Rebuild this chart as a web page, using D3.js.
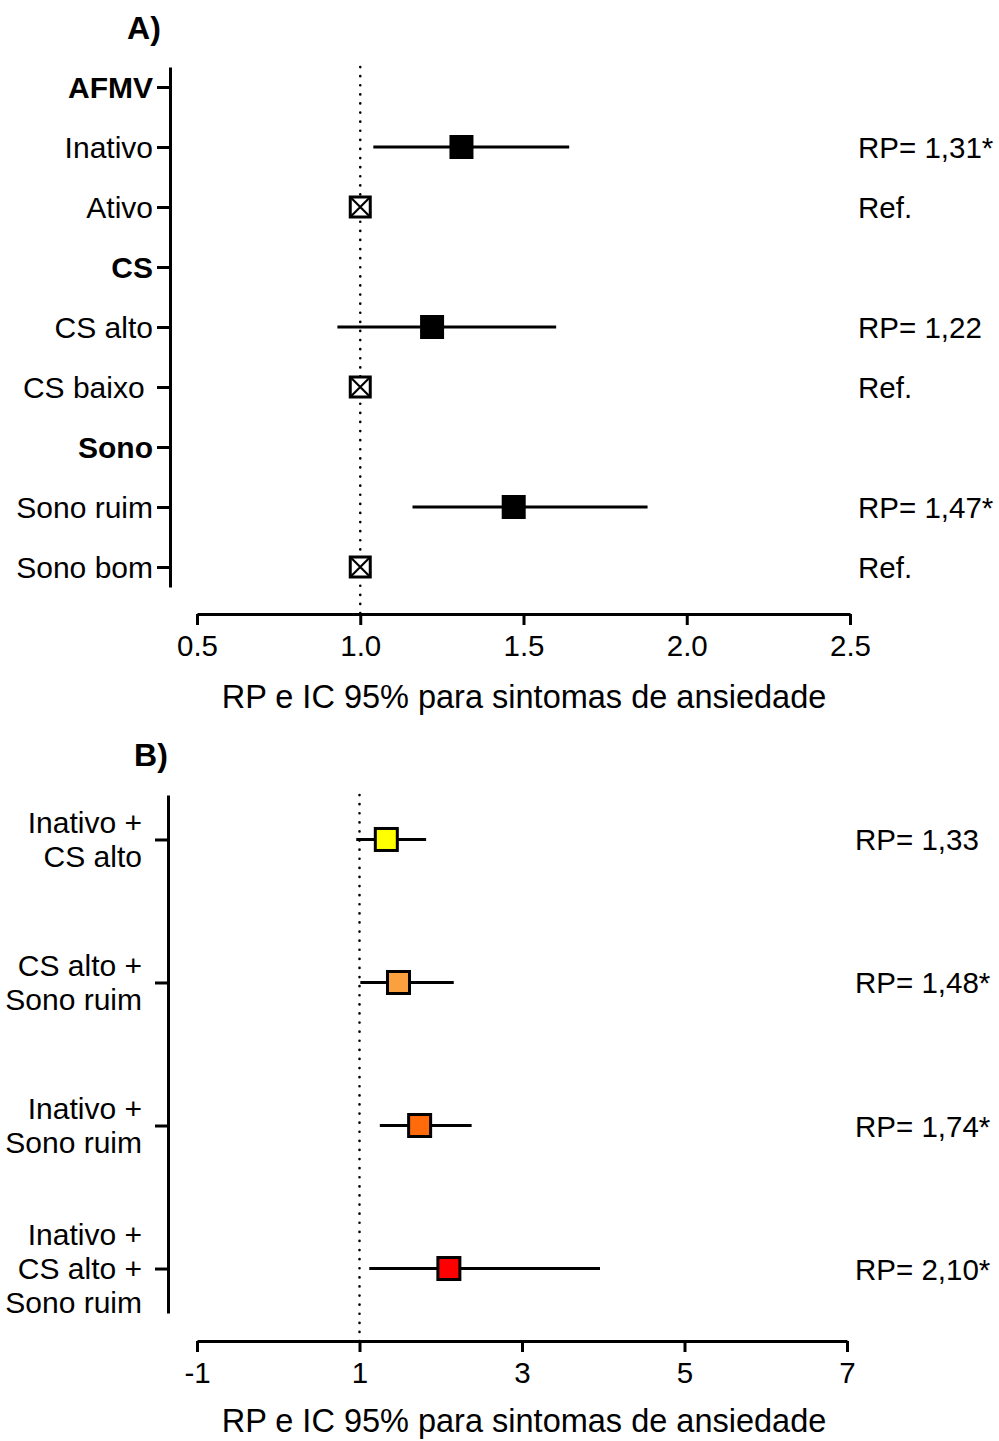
<!DOCTYPE html>
<html>
<head>
<meta charset="utf-8">
<script src="https://cdn.jsdelivr.net/npm/d3@7"></script>
<style>
  html, body { margin: 0; padding: 0; background: #fff; }
  svg { display: block; font-family: "Liberation Sans", Arial, sans-serif; }
  text { white-space: pre; }
</style>
</head>
<body>
<svg id="chart" width="999" height="1441"></svg>
<script>
// ---------- Panel A data ----------
const catsA = ["AFMV", "Inativo", "Ativo", "CS", "CS alto", "CS baixo ", "Sono", "Sono ruim", "Sono bom"];
const boldA = ["AFMV", "CS", "Sono"];
const estA  = [null, 1.31, 1.00, null, 1.22, 1.00, null, 1.47, 1.00];
const lowA  = [null, 1.04, null, null, 0.93, null, null, 1.16, null];
const highA = [null, 1.64, null, null, 1.60, null, null, 1.88, null];
const refA  = [false, false, true, false, false, true, false, false, true];
const textA = ["", "RP= 1,31*", "Ref.", "", "RP= 1,22", "Ref.", "", "RP= 1,47*", "Ref."];
const ticksA = [0.5, 1.0, 1.5, 2.0, 2.5];

// ---------- Panel B data ----------
const catsB = ["Inativo +\nCS alto", "CS alto +\nSono ruim", "Inativo +\nSono ruim", "Inativo +\nCS alto +\nSono ruim"];
const estB  = [1.33, 1.48, 1.74, 2.10];
const lowB  = [0.96, 1.01, 1.25, 1.12];
const highB = [1.82, 2.16, 2.38, 3.96];
const colorsB = ["#FFFF00", "#FBA03E", "#FF6A0A", "#FF0000"];
const textB = ["RP= 1,33", "RP= 1,48*", "RP= 1,74*", "RP= 2,10*"];
const ticksB = [-1, 1, 3, 5, 7];

const axisTitle = "RP e IC 95% para sintomas de ansiedade";

const svg = d3.select("#chart");

function panel(cfg) {
  const g = svg.append("g");
  const x = d3.scaleLinear().domain(cfg.xDomain).range([cfg.x0, cfg.x1]);
  const y = d3.scalePoint().domain(cfg.cats).range([cfg.yTop, cfg.yBot]).padding(cfg.pad);

  // panel letter
  g.append("text").attr("x", cfg.letterX).attr("y", cfg.letterY)
    .attr("text-anchor", "middle").attr("font-size", 32).attr("font-weight", "bold")
    .text(cfg.letter);

  // reference dotted line
  g.append("line")
    .attr("x1", x(1)).attr("x2", x(1))
    .attr("y1", cfg.yTop).attr("y2", cfg.xAxisY)
    .attr("stroke", "#000").attr("stroke-width", 2.6)
    .attr("stroke-linecap", "round").attr("stroke-dasharray", "0.1 9");

  // x axis
  const xa = g.append("g").attr("transform", `translate(0,${cfg.xAxisY})`)
    .call(d3.axisBottom(x).tickValues(cfg.ticks).tickFormat(cfg.fmt).tickSize(11).tickSizeOuter(0).tickPadding(10));
  xa.select(".domain").attr("stroke-width", 3);
  xa.selectAll(".tick line").attr("stroke-width", 3);
  xa.selectAll(".tick text").attr("font-size", 29.5).attr("fill", "#000")
    .attr("font-family", "Liberation Sans, Arial, sans-serif");

  // x axis title
  g.append("text").attr("x", 524).attr("y", cfg.titleY)
    .attr("text-anchor", "middle").attr("font-size", 32.5).text(axisTitle);

  // y axis
  const ya = g.append("g").attr("transform", `translate(${cfg.yAxisX},0)`)
    .call(d3.axisLeft(y).tickSize(13).tickSizeOuter(0).tickFormat(""));
  ya.select(".domain").attr("stroke-width", 3);
  ya.selectAll(".tick line").attr("stroke-width", 3);

  // y labels
  cfg.cats.forEach((c, i) => {
    const lines = c.split("\n");
    const lh = 34;
    const t = g.append("text").attr("text-anchor", "end").attr("font-size", 30)
      .attr("font-weight", cfg.bold && cfg.bold.includes(c) ? "bold" : "normal");
    lines.forEach((ln, j) => {
      t.append("tspan").attr("x", cfg.labelX)
        .attr("y", y(c) + (j - (lines.length - 1) / 2) * lh + 10.5)
        .text(ln);
    });
  });

  // right texts
  cfg.cats.forEach((c, i) => {
    if (!cfg.rtext[i]) return;
    g.append("text").attr("x", cfg.rightX).attr("y", y(c) + 11)
      .attr("font-size", 29.5).text(cfg.rtext[i]);
  });

  // CI lines
  cfg.cats.forEach((c, i) => {
    if (cfg.low[i] == null) return;
    g.append("line").attr("x1", x(cfg.low[i])).attr("x2", x(cfg.high[i]))
      .attr("y1", y(c)).attr("y2", y(c))
      .attr("stroke", "#000").attr("stroke-width", 2.8);
  });

  // markers
  cfg.cats.forEach((c, i) => {
    if (cfg.est[i] == null) return;
    const cx = x(cfg.est[i]), cy = y(c);
    if (cfg.ref && cfg.ref[i]) {
      const s = 20;
      g.append("rect").attr("x", cx - s / 2).attr("y", cy - s / 2).attr("width", s).attr("height", s)
        .attr("fill", "#fff").attr("stroke", "#000").attr("stroke-width", 3);
      g.append("path")
        .attr("d", `M${cx - s/2},${cy - s/2}L${cx + s/2},${cy + s/2}M${cx + s/2},${cy - s/2}L${cx - s/2},${cy + s/2}`)
        .attr("stroke", "#000").attr("stroke-width", 2.2);
    } else {
      const s = cfg.size;
      g.append("rect").attr("x", cx - s / 2).attr("y", cy - s / 2).attr("width", s).attr("height", s)
        .attr("fill", cfg.colors ? cfg.colors[i] : "#000")
        .attr("stroke", "#000").attr("stroke-width", cfg.colors ? 3 : 0);
    }
  });
}

panel({
  letter: "A)", letterX: 144, letterY: 39,
  cats: catsA, bold: boldA, est: estA, low: lowA, high: highA, ref: refA, rtext: textA,
  xDomain: [0.5, 2.5], x0: 197, x1: 850, ticks: ticksA, fmt: d3.format(".1f"),
  yTop: 67, yBot: 587, pad: 1 / 3, yAxisX: 170, labelX: 153, xAxisY: 614,
  titleY: 708, rightX: 858, size: 24, colors: null
});

panel({
  letter: "B)", letterX: 151, letterY: 766,
  cats: catsB, bold: null, est: estB, low: lowB, high: highB, ref: null, rtext: textB,
  xDomain: [-1, 7], x0: 197, x1: 847, ticks: ticksB, fmt: d => String(d),
  yTop: 795, yBot: 1313, pad: 0.311, yAxisX: 168, labelX: 142, xAxisY: 1341,
  titleY: 1432, rightX: 855, size: 22, colors: colorsB
});
</script>
</body>
</html>
